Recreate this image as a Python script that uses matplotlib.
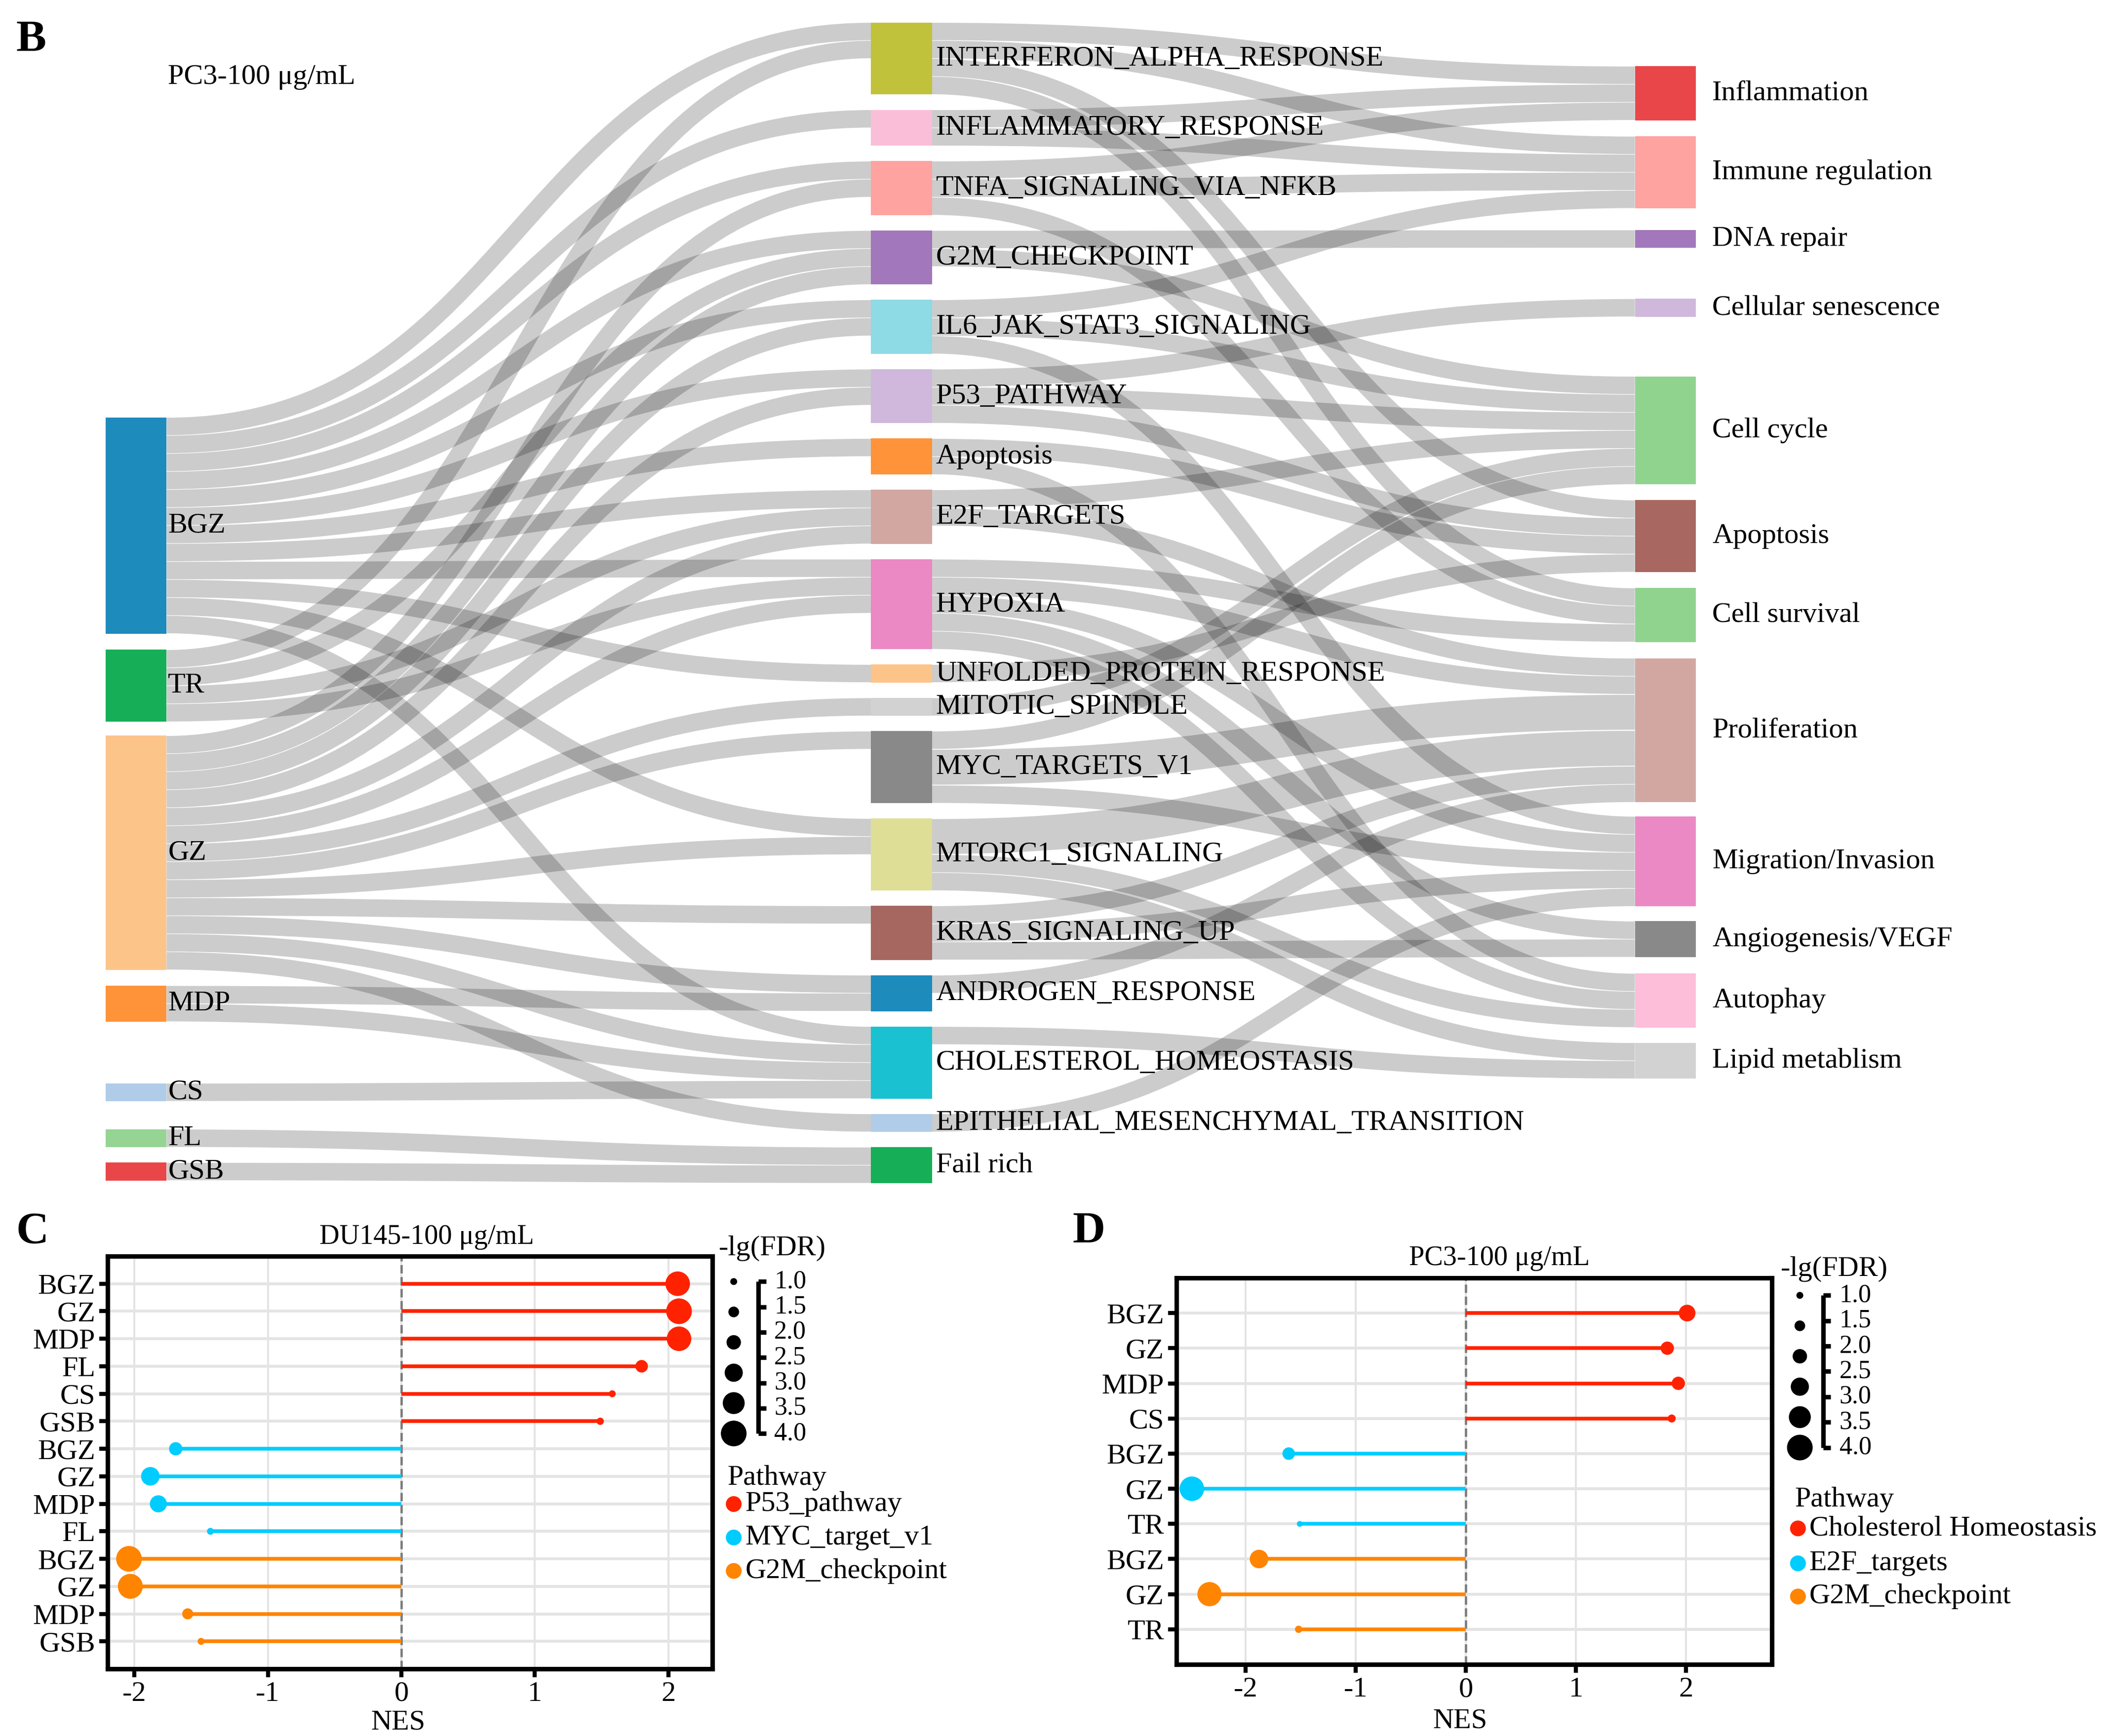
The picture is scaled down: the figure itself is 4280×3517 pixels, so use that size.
import numpy as np
import matplotlib
matplotlib.use('Agg')
import matplotlib.pyplot as plt
from matplotlib.path import Path
from matplotlib.patches import PathPatch, Rectangle

plt.rcParams['font.family'] = ['Liberation Serif', 'DejaVu Serif']
plt.rcParams['axes.unicode_minus'] = False

# ---------------- panel B data (sankey) ----------------
samples = ['BGZ', 'TR', 'GZ', 'MDP', 'CS', 'FL', 'GSB']
sample_colors = ['#0a81b8', '#02a84a', '#fdbf80', '#ff8a28', '#a9c8e8', '#8dd18a', '#e8363a']

pathways = ['INTERFERON_ALPHA_RESPONSE', 'INFLAMMATORY_RESPONSE', 'TNFA_SIGNALING_VIA_NFKB',
            'G2M_CHECKPOINT', 'IL6_JAK_STAT3_SIGNALING', 'P53_PATHWAY', 'Apoptosis',
            'E2F_TARGETS', 'HYPOXIA', 'UNFOLDED_PROTEIN_RESPONSE', 'MITOTIC_SPINDLE',
            'MYC_TARGETS_V1', 'MTORC1_SIGNALING', 'KRAS_SIGNALING_UP', 'ANDROGEN_RESPONSE',
            'CHOLESTEROL_HOMEOSTASIS', 'EPITHELIAL_MESENCHYMAL_TRANSITION', 'Fail rich']
pathway_colors = ['#bcbd2a', '#fbb9d6', '#ff9b98', '#9b6bb5', '#84d8e3', '#cbb2d9', '#ff8a28',
                  '#cfa09a', '#ea7fbf', '#fdbf80', '#cfcfcf', '#7f7f7f', '#dcdc8e', '#9e5a52',
                  '#0a81b8', '#06bccd', '#a9c8e8', '#02a84a']

functions = ['Inflammation', 'Immune regulation', 'DNA repair', 'Cellular senescence',
             'Cell cycle', 'Apoptosis', 'Cell survival', 'Proliferation',
             'Migration/Invasion', 'Angiogenesis/VEGF', 'Autophay', 'Lipid metablism']
function_colors = ['#e8363a', '#ff9b98', '#9b6bb5', '#cbb2d9', '#86d086', '#a15a52',
                   '#86d086', '#cfa09a', '#ea7fbf', '#7f7f7f', '#fdb9d6', '#cfcfcf']

sample_links = [
    ('BGZ', 'INTERFERON_ALPHA_RESPONSE', 1), ('BGZ', 'INFLAMMATORY_RESPONSE', 1),
    ('BGZ', 'TNFA_SIGNALING_VIA_NFKB', 1), ('BGZ', 'G2M_CHECKPOINT', 1),
    ('BGZ', 'IL6_JAK_STAT3_SIGNALING', 1), ('BGZ', 'P53_PATHWAY', 1), ('BGZ', 'Apoptosis', 1),
    ('BGZ', 'E2F_TARGETS', 1), ('BGZ', 'HYPOXIA', 1), ('BGZ', 'UNFOLDED_PROTEIN_RESPONSE', 1),
    ('BGZ', 'MTORC1_SIGNALING', 1), ('BGZ', 'CHOLESTEROL_HOMEOSTASIS', 1),
    ('TR', 'INTERFERON_ALPHA_RESPONSE', 1), ('TR', 'G2M_CHECKPOINT', 1),
    ('TR', 'E2F_TARGETS', 1), ('TR', 'HYPOXIA', 1),
    ('GZ', 'TNFA_SIGNALING_VIA_NFKB', 1), ('GZ', 'G2M_CHECKPOINT', 1),
    ('GZ', 'IL6_JAK_STAT3_SIGNALING', 1), ('GZ', 'P53_PATHWAY', 1), ('GZ', 'E2F_TARGETS', 1),
    ('GZ', 'HYPOXIA', 1), ('GZ', 'MITOTIC_SPINDLE', 1), ('GZ', 'MYC_TARGETS_V1', 1),
    ('GZ', 'MTORC1_SIGNALING', 1), ('GZ', 'KRAS_SIGNALING_UP', 1),
    ('GZ', 'ANDROGEN_RESPONSE', 1), ('GZ', 'CHOLESTEROL_HOMEOSTASIS', 1),
    ('GZ', 'EPITHELIAL_MESENCHYMAL_TRANSITION', 1),
    ('MDP', 'ANDROGEN_RESPONSE', 1), ('MDP', 'CHOLESTEROL_HOMEOSTASIS', 1),
    ('CS', 'CHOLESTEROL_HOMEOSTASIS', 1),
    ('FL', 'Fail rich', 1), ('GSB', 'Fail rich', 1),
]

function_links = [
    ('INTERFERON_ALPHA_RESPONSE', 'Inflammation', 1), ('INTERFERON_ALPHA_RESPONSE', 'Immune regulation', 1),
    ('INTERFERON_ALPHA_RESPONSE', 'Apoptosis', 1), ('INTERFERON_ALPHA_RESPONSE', 'Cell survival', 1),
    ('INFLAMMATORY_RESPONSE', 'Inflammation', 1), ('INFLAMMATORY_RESPONSE', 'Immune regulation', 1),
    ('TNFA_SIGNALING_VIA_NFKB', 'Inflammation', 1), ('TNFA_SIGNALING_VIA_NFKB', 'Immune regulation', 1),
    ('TNFA_SIGNALING_VIA_NFKB', 'Cell survival', 1),
    ('G2M_CHECKPOINT', 'DNA repair', 1), ('G2M_CHECKPOINT', 'Cell cycle', 1),
    ('IL6_JAK_STAT3_SIGNALING', 'Immune regulation', 1), ('IL6_JAK_STAT3_SIGNALING', 'Cell cycle', 1),
    ('IL6_JAK_STAT3_SIGNALING', 'Migration/Invasion', 1),
    ('P53_PATHWAY', 'Cellular senescence', 1), ('P53_PATHWAY', 'Cell cycle', 1),
    ('P53_PATHWAY', 'Apoptosis', 1),
    ('Apoptosis', 'Apoptosis', 1), ('Apoptosis', 'Autophay', 1),
    ('E2F_TARGETS', 'Cell cycle', 1), ('E2F_TARGETS', 'Proliferation', 1),
    ('HYPOXIA', 'Cell survival', 1), ('HYPOXIA', 'Proliferation', 1), ('HYPOXIA', 'Migration/Invasion', 1),
    ('HYPOXIA', 'Angiogenesis/VEGF', 1), ('HYPOXIA', 'Autophay', 1),
    ('UNFOLDED_PROTEIN_RESPONSE', 'Apoptosis', 1),
    ('MITOTIC_SPINDLE', 'Cell cycle', 1),
    ('MYC_TARGETS_V1', 'Cell cycle', 1), ('MYC_TARGETS_V1', 'Proliferation', 2),
    ('MYC_TARGETS_V1', 'Migration/Invasion', 1),
    ('MTORC1_SIGNALING', 'Proliferation', 2), ('MTORC1_SIGNALING', 'Autophay', 1),
    ('MTORC1_SIGNALING', 'Lipid metablism', 1),
    ('KRAS_SIGNALING_UP', 'Proliferation', 1), ('KRAS_SIGNALING_UP', 'Migration/Invasion', 1),
    ('KRAS_SIGNALING_UP', 'Angiogenesis/VEGF', 1),
    ('ANDROGEN_RESPONSE', 'Proliferation', 1),
    ('CHOLESTEROL_HOMEOSTASIS', 'Lipid metablism', 1),
    ('EPITHELIAL_MESENCHYMAL_TRANSITION', 'Migration/Invasion', 1),
]

# ---------------- panel C / D data (lollipops) ----------------
c_samples = ['BGZ', 'GZ', 'MDP', 'FL', 'CS', 'GSB', 'BGZ', 'GZ', 'MDP', 'FL', 'BGZ', 'GZ', 'MDP', 'GSB']
c_pathway = ['P53_pathway'] * 6 + ['MYC_target_v1'] * 4 + ['G2M_checkpoint'] * 4
c_nes = [2.07, 2.08, 2.08, 1.80, 1.58, 1.49, -1.69, -1.88, -1.82, -1.43, -2.04, -2.03, -1.60, -1.50]
c_lgfdr = [3.6, 3.75, 3.6, 2.0, 1.25, 1.3, 2.1, 2.8, 2.6, 1.25, 3.75, 3.65, 1.8, 1.25]
c_groups = ['P53_pathway', 'MYC_target_v1', 'G2M_checkpoint']

d_samples = ['BGZ', 'GZ', 'MDP', 'CS', 'BGZ', 'GZ', 'TR', 'BGZ', 'GZ', 'TR']
d_pathway = ['Cholesterol Homeostasis'] * 4 + ['E2F_targets'] * 3 + ['G2M_checkpoint'] * 3
d_nes = [2.01, 1.83, 1.93, 1.87, -1.61, -2.49, -1.51, -1.88, -2.33, -1.52]
d_lgfdr = [2.55, 2.1, 2.1, 1.4, 2.0, 3.6, 1.1, 2.8, 3.55, 1.3]
d_groups = ['Cholesterol Homeostasis', 'E2F_targets', 'G2M_checkpoint']

group_colors = ['#ff2200', '#00ccff', '#ff8400']
size_breaks = [1.0, 1.5, 2.0, 2.5, 3.0, 3.5, 4.0]

# ---------------- figure / overlay ----------------
DPI = 300
fig = plt.figure(figsize=(4280 / DPI, 3517 / DPI), dpi=DPI)
W, H = 1560, 1282
ov = fig.add_axes([0, 0, 1, 1])
ov.set_xlim(0, W)
ov.set_ylim(H, 0)
ov.axis('off')
px_to_pt = (4280 / W) * 72 / DPI

UNIT = 13.3      # height of one link unit
TOP = 16.6
NODE_W = 45
col_x = [78, 643, 1207]
sample_tops = [21.93, 34.83, 39.6, 53.48, 58.9, 61.45, 63.3]
function_tops = [2.43, 6.32, 11.52, 15.34, 19.65, 26.52, 31.4, 35.3, 44.08, 49.9, 52.8, 56.65]
PAD = 0.85

# node sizes from the links
s_out = {n: 0 for n in samples}
p_in = {n: 0 for n in pathways}
p_out = {n: 0 for n in pathways}
f_in = {n: 0 for n in functions}
for s, t, v in sample_links:
    s_out[s] += v
    p_in[t] += v
for s, t, v in function_links:
    p_out[s] += v
    f_in[t] += v
s_size = {n: s_out[n] for n in samples}
p_size = {n: max(p_in[n], p_out[n]) for n in pathways}
f_size = {n: f_in[n] for n in functions}

s_top = dict(zip(samples, sample_tops))
f_top = dict(zip(functions, function_tops))
p_top = {}
y = 0.0
for n in pathways:
    p_top[n] = y
    y += p_size[n] + PAD


def link_positions(links, src_top, tgt_top):
    out_off = {}
    in_off = {}
    res = []
    order_out = sorted(range(len(links)), key=lambda i: (src_top[links[i][0]], tgt_top[links[i][1]]))
    pos_out = {}
    for i in order_out:
        s = links[i][0]
        o = out_off.get(s, 0.0)
        pos_out[i] = src_top[s] + o + links[i][2] / 2
        out_off[s] = o + links[i][2]
    order_in = sorted(range(len(links)), key=lambda i: (tgt_top[links[i][1]], src_top[links[i][0]]))
    pos_in = {}
    for i in order_in:
        t = links[i][1]
        o = in_off.get(t, 0.0)
        pos_in[i] = tgt_top[t] + o + links[i][2] / 2
        in_off[t] = o + links[i][2]
    for i in range(len(links)):
        res.append((pos_out[i], pos_in[i], links[i][2]))
    return res


def draw_links(links, src_top, tgt_top, x0, x1):
    xm = (x0 + x1) / 2
    for ys, yt, v in link_positions(links, src_top, tgt_top):
        y0 = TOP + ys * UNIT
        y1 = TOP + yt * UNIT
        p = Path([(x0, y0), (xm, y0), (xm, y1), (x1, y1)],
                 [Path.MOVETO, Path.CURVE4, Path.CURVE4, Path.CURVE4])
        ov.add_patch(PathPatch(p, fc='none', ec=(0, 0, 0, 0.2), lw=v * UNIT * px_to_pt * 0.97,
                               capstyle='butt', zorder=1))


draw_links(sample_links, s_top, p_top, col_x[0] + NODE_W, col_x[1])
draw_links(function_links, p_top, f_top, col_x[1] + NODE_W, col_x[2])


def draw_nodes(names, colors, tops, sizes, x, dx):
    for n, c in zip(names, colors):
        ov.add_patch(Rectangle((x, TOP + tops[n] * UNIT), NODE_W, sizes[n] * UNIT,
                               fc=c, ec='none', alpha=0.92, zorder=2))
        ov.text(x + NODE_W + dx, TOP + (tops[n] + sizes[n] / 2) * UNIT, n,
                fontsize=14, va='center', ha='left', zorder=3)


draw_nodes(samples, sample_colors, s_top, s_size, col_x[0], 1)
draw_nodes(pathways, pathway_colors, p_top, p_size, col_x[1], 3)
draw_nodes(functions, function_colors, f_top, f_size, col_x[2], 12)

ov.text(12, 30, 'B', fontsize=22, fontweight='bold', va='center', ha='left')
ov.text(124, 57, 'PC3-100 μg/mL', fontsize=14, va='center', ha='left')


# ---------------- lollipop panels ----------------
def dot_area(v):
    d_px = 14 + (np.asarray(v, float) - 1.25) * 15.2
    return (d_px * 72 / DPI) ** 2


def lollipop(rect, names, groups, nes, lgfdr, xlim, group_order):
    ax = fig.add_axes(rect)
    rows = np.arange(len(names))
    cols = [group_colors[group_order.index(g)] for g in groups]
    for x in range(-2, 3):
        ax.axvline(x, color='#e2e2e2', lw=0.9, zorder=0)
    for r in rows:
        ax.axhline(r, color='#e4e4e4', lw=1.4, zorder=0)
    ax.axvline(0, color='#7a7a7a', ls='--', lw=1.1, zorder=1)
    ax.hlines(rows, 0, nes, colors=cols, lw=1.8, zorder=2)
    ax.scatter(nes, rows, s=dot_area(lgfdr), c=cols, linewidths=0, zorder=3)
    ax.set_xlim(*xlim)
    ax.set_ylim(len(names), -1)
    ax.set_xticks(range(-2, 3))
    ax.set_xticklabels(['-2', '-1', '0', '1', '2'])
    ax.set_yticks(rows)
    ax.set_yticklabels(names)
    ax.tick_params(labelsize=14, width=2, length=4, pad=2)
    for sp in ax.spines.values():
        sp.set_linewidth(2.2)
    return ax


lollipop([218 / 4280, 1 - 3381 / 3517, (1443 - 218) / 4280, (3381 - 2545) / 3517],
         c_samples, c_pathway, c_nes, c_lgfdr, (-2.2, 2.33), c_groups)
lollipop([2383 / 4280, 1 - 3372 / 3517, (3589 - 2383) / 4280, (3372 - 2589) / 3517],
         d_samples, d_pathway, d_nes, d_lgfdr, (-2.63, 2.78), d_groups)

ov.text(12, 910, 'C', fontsize=22, fontweight='bold', va='center', ha='left')
ov.text(792, 910, 'D', fontsize=22, fontweight='bold', va='center', ha='left')
ov.text(315, 913.6, 'DU145-100 μg/mL', fontsize=13.5, va='center', ha='center')
ov.text(1107, 929, 'PC3-100 μg/mL', fontsize=13.5, va='center', ha='center')
ov.text(294, 1272, 'NES', fontsize=14, va='center', ha='center')
ov.text(1078, 1271, 'NES', fontsize=14, va='center', ha='center')


def legends(title_xy, x_dot, y_top, y_bot, x_bar, x_lab, pw_xy, pw_rows, x_pdot, x_ptext, group_order):
    ov.text(title_xy[0], title_xy[1], '-lg(FDR)', fontsize=14, va='center', ha='left')
    mids = [(a + b) / 2 for a, b in zip(size_breaks[:-1], size_breaks[1:])]
    ov.scatter([x_dot] * len(mids), np.linspace(y_top, y_bot, len(mids)), s=dot_area(mids),
               c='black', linewidths=0, zorder=3)
    yb = np.linspace(y_top, y_bot, len(size_breaks))
    ov.plot([x_bar, x_bar], [y_top, y_bot], color='black', lw=2.2, solid_capstyle='butt')
    for yy, b in zip(yb, size_breaks):
        ov.plot([x_bar, x_bar + 5.5], [yy, yy], color='black', lw=2.2, solid_capstyle='butt')
        ov.text(x_lab, yy, f'{b:.1f}', fontsize=12.5, va='center', ha='left')
    ov.text(pw_xy[0], pw_xy[1], 'Pathway', fontsize=14, va='center', ha='left')
    ov.scatter([x_pdot] * 3, pw_rows, s=(32 * 72 / DPI) ** 2, c=group_colors, linewidths=0, zorder=3)
    for yy, g in zip(pw_rows, group_order):
        ov.text(x_ptext, yy, g, fontsize=14, va='center', ha='left')


legends((530.6, 922), 541.7, 946.4, 1058.6, 560, 571.6, (537.2, 1091.3),
        [1110.7, 1135.4, 1160.1], 541.7, 550.2, c_groups)
legends((1314.5, 937), 1328.8, 956.6, 1069, 1346, 1358, (1325, 1107.5),
        [1128.7, 1154.5, 1179], 1327.4, 1335.7, d_groups)

fig.savefig('out.png', dpi=DPI)
